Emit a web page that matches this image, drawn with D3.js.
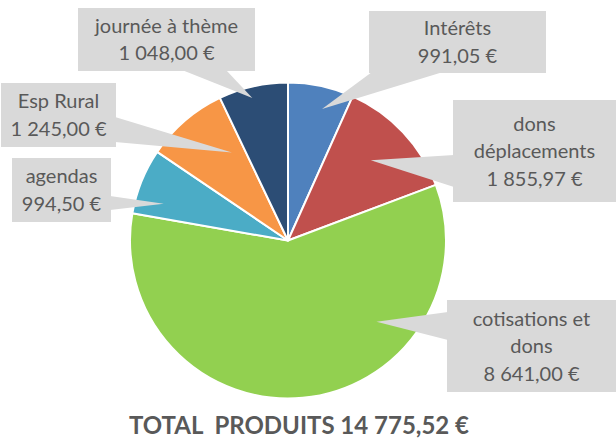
<!DOCTYPE html>
<html>
<head>
<meta charset="utf-8">
<script src="https://cdn.jsdelivr.net/npm/d3@7"></script>
<style>
  html, body { margin: 0; padding: 0; background: #ffffff; }
  svg { display: block; }
</style>
</head>
<body>
<svg id="chart" width="616" height="439"></svg>
<script>
// ---- data ----
const categories = ["Intérêts", "dons déplacements", "cotisations et dons", "agendas", "Esp Rural", "journée à thème"];
const values = [991.05, 1855.97, 8641.00, 994.50, 1245.00, 1048.00];
const labelLines = [["Intérêts"], ["dons", "déplacements"], ["cotisations et", "dons"], ["agendas"], ["Esp Rural"], ["journée à thème"]];
const valueLabels = ["991,05 €", "1 855,97 €", "8 641,00 €", "994,50 €", "1 245,00 €", "1 048,00 €"];
const titleText = "TOTAL  PRODUITS 14 775,52 €";

// ---- styles / layout ----
const colors = ["#4f81bd", "#c0504d", "#92d050", "#4bacc6", "#f79646", "#2c4d75"];
const cx = 288, cy = 240.5, R = 158;
// callout boxes: x, y, w, h ; pointer base side & base range ; tip (fraction in slice angle, radius fraction)
const callouts = [
  {x: 369, y: 11,  w: 177, h: 62,  side: "bottom", b0: 372, b1: 443, tf: 0.60, tr: 0.86},
  {x: 453, y: 100, w: 163, h: 102, side: "left",   b0: 155, b1: 187, tf: 0.48, tr: 0.73},
  {x: 447, y: 300, w: 169, h: 92,  side: "left",   b0: 312, b1: 340, tf: 0.30, tr: 0.76},
  {x: 12,  y: 158, w: 99,  h: 64,  side: "right",  b0: 196, b1: 210, tf: 0.27, tr: 0.82},
  {x: 1,   y: 83,  w: 115, h: 64,  side: "right",  b0: 117, b1: 142, tf: 0.77, tr: 0.66},
  {x: 78,  y: 8,   w: 177, h: 63,  side: "bottom", b0: 182, b1: 226, tf: 0.45, tr: 0.93}
];
const boxFill = "#d9d9d9";
const textColor = "#595959";
const fontFamily = "Lato, 'Open Sans', sans-serif";
const lineH = 27.5;

const svg = d3.select("#chart");

const pie = d3.pie().sort(null).value(d => d)(values);
const arc = d3.arc().innerRadius(0).outerRadius(R);

const g = svg.append("g").attr("transform", `translate(${cx},${cy})`);
g.selectAll("path.slice")
  .data(pie)
  .join("path")
  .attr("class", "slice")
  .attr("d", arc)
  .attr("fill", (d, i) => colors[i])
  .attr("stroke", "#ffffff")
  .attr("stroke-width", 2)
  .attr("stroke-linejoin", "round");

// callouts
const cg = svg.append("g");
pie.forEach((d, i) => {
  const c = callouts[i];
  const a = d.startAngle + (d.endAngle - d.startAngle) * c.tf;
  const rr = R * c.tr;
  const tx = cx + Math.sin(a) * rr, ty = cy - Math.cos(a) * rr;
  let p0, p1;
  if (c.side === "bottom") { p0 = [c.b0, c.y + c.h - 1]; p1 = [c.b1, c.y + c.h - 1]; }
  else if (c.side === "left") { p0 = [c.x + 1, c.b0]; p1 = [c.x + 1, c.b1]; }
  else { p0 = [c.x + c.w - 1, c.b0]; p1 = [c.x + c.w - 1, c.b1]; }
  cg.append("rect")
    .attr("x", c.x).attr("y", c.y).attr("width", c.w).attr("height", c.h)
    .attr("fill", boxFill);
  cg.append("path")
    .attr("d", d3.line()([p0, [tx, ty], p1]) + "Z")
    .attr("fill", boxFill);
  const lines = labelLines[i].concat([valueLabels[i]]);
  const midY = c.y + c.h / 2;
  const t = cg.append("text")
    .attr("text-anchor", "middle")
    .attr("font-family", fontFamily)
    .attr("font-size", 20)
    .attr("fill", textColor);
  lines.forEach((ln, k) => {
    t.append("tspan")
      .attr("x", c.x + c.w / 2)
      .attr("y", midY + (k - (lines.length - 1) / 2) * lineH)
      .attr("dy", "0.35em")
      .text(ln);
  });
});

svg.append("text")
  .attr("x", 299)
  .attr("y", 434)
  .attr("text-anchor", "middle")
  .attr("font-family", fontFamily)
  .attr("font-weight", "bold")
  .attr("font-size", 24)
  .attr("fill", textColor)
  .attr("xml:space", "preserve")
  .style("white-space", "pre")
  .text(titleText);
</script>
</body>
</html>
